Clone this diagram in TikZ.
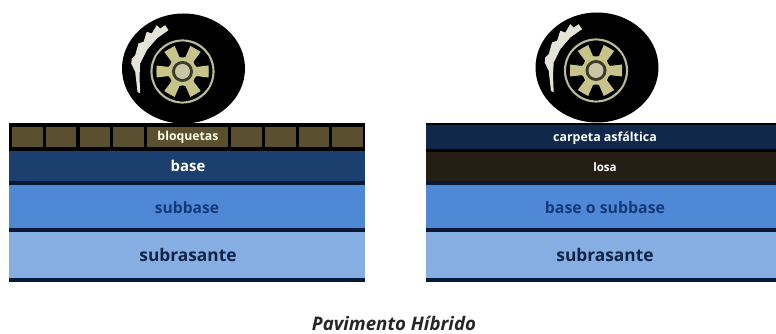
\documentclass[tikz,border=0pt]{standalone}
\usepackage{fontspec}
\setmainfont{Open Sans}
\definecolor{blockbrown}{HTML}{5A5030}
\definecolor{deepblue}{HTML}{1B3F6E}
\definecolor{navy}{HTML}{10294A}
\definecolor{slab}{HTML}{251E14}
\definecolor{midblue}{HTML}{4F88D4}
\definecolor{paleblue}{HTML}{86AEE2}
\definecolor{rule}{HTML}{041A38}
\definecolor{rim}{HTML}{B9BC98}
\definecolor{spoke}{HTML}{C6C48A}
\definecolor{hub}{HTML}{C9C6A6}
\definecolor{tread}{HTML}{E4E5D8}
\definecolor{inkblue}{HTML}{123A7A}
\definecolor{inkdark}{HTML}{0E2348}
\newcommand{\labelsize}[1]{\fontsize{#1pt}{#1pt}\selectfont\bfseries}
\tikzset{
  x=0.75pt,y=-0.75pt,
  lightlabel/.style={text=white,inner sep=0pt},
  darklabel/.style={inner sep=0pt},
  tire/.pic={
    % tyre body
    \fill[black] (0,0) ellipse [x radius=61.5,y radius=55];
    % tread highlight with its notched outer edge
    \fill[tread] (-15,-38.3) -- (-18.3,-43.3) -- (-23.3,-40) -- (-26.7,-43.3)
      -- (-31.7,-35) -- (-36.7,-36.7) -- (-40,-26.7) -- (-45,-25) -- (-48.3,-13.3)
      -- (-51.7,-10) -- (-52.3,-5) -- (-48.3,3.3) -- (-46,23.3) -- (-43.3,25)
      -- (-44,8.3) -- (-43.3,-5) -- (-36.7,-18.3) -- (-26.7,-30) -- cycle;
    % rim and the six-spoke wheel
    \draw[rim,line width=1.6pt] (-1,3) circle [radius=31];
    \fill[spoke] (-1,3) circle [radius=26];
    \foreach \a in {30,90,...,330}{
      \fill[black,rotate around={\a:(-1,3)}] (21,3) ellipse [x radius=8,y radius=9];
    }
    \foreach \a in {0,60,...,300}{
      \fill[spoke,rotate around={\a:(-1,3)}] (8,-1) -- (25,-3) -- (25,9) -- (8,7) -- cycle;
    }
    % hub
    \fill[black!70!spoke] (-1,3) circle [radius=10.5];
    \fill[hub] (-1,3) circle [radius=7.5];
  }
}
\begin{document}
\begin{tikzpicture}
\useasboundingbox (0,0) rectangle (776,334);
\fill[white] (0,0) rectangle (776,334);

% left pavement section
\fill[black] (9,123) rectangle (365,151);
\foreach \a/\b in {12/43,46/76,80/110,113/144,147/228,231/262,265/296,299/329,332/363}
  \fill[blockbrown] (\a,127) rectangle (\b,147);
\fill[deepblue] (9,151) rectangle (365,181);
\fill[rule] (9,181) rectangle (365,185);
\fill[midblue] (9,185) rectangle (365,228);
\fill[rule] (9,228) rectangle (365,232);
\fill[paleblue] (9,232) rectangle (365,278);
\fill[rule] (9,278) rectangle (365,282);
\pic at (183.5,68.5) {tire};

\node[lightlabel,font=\labelsize{9.2},text=white!90!yellow] (blockslabel) at (188,137.5) {bloquetas};
\node[lightlabel,font=\labelsize{11.2}] (baselabel) at (188,166) {base};
\node[darklabel,text=inkblue,font=\labelsize{11.7}] (subbaselabel) at (187,208) {subbase};
\node[darklabel,text=inkdark,font=\labelsize{13}] (subgradeleft) at (188,255.5) {subrasante};

% right pavement section
\fill[navy] (426,123) rectangle (776,149);
\fill[black] (426,149) rectangle (776,152);
\fill[slab] (426,152) rectangle (776,181);
\fill[rule] (426,181) rectangle (776,185);
\fill[midblue] (426,185) rectangle (776,228);
\fill[rule] (426,228) rectangle (776,232);
\fill[paleblue] (426,232) rectangle (776,278);
\fill[rule] (426,278) rectangle (776,282);
\fill[black] (426,123) rectangle (776,125);
\pic at (597,67.5) {tire};

\node[lightlabel,font=\labelsize{9.3}] (asphaltlabel) at (605,138) {carpeta asfáltica};
\node[lightlabel,font=\labelsize{8.7}] (slablabel) at (605,167) {losa};
\node[darklabel,text=inkblue,font=\labelsize{11.9}] (basesubbaselabel) at (605,208) {base o subbase};
\node[darklabel,text=inkdark,font=\labelsize{13}] (subgraderight) at (605,255.5) {subrasante};

% figure caption
\node[inner sep=0pt,font=\itshape\bfseries\fontsize{14pt}{16pt}\selectfont,text=black!85] (caption) at (394,323.5) {Pavimento Híbrido};
\end{tikzpicture}
\end{document}
